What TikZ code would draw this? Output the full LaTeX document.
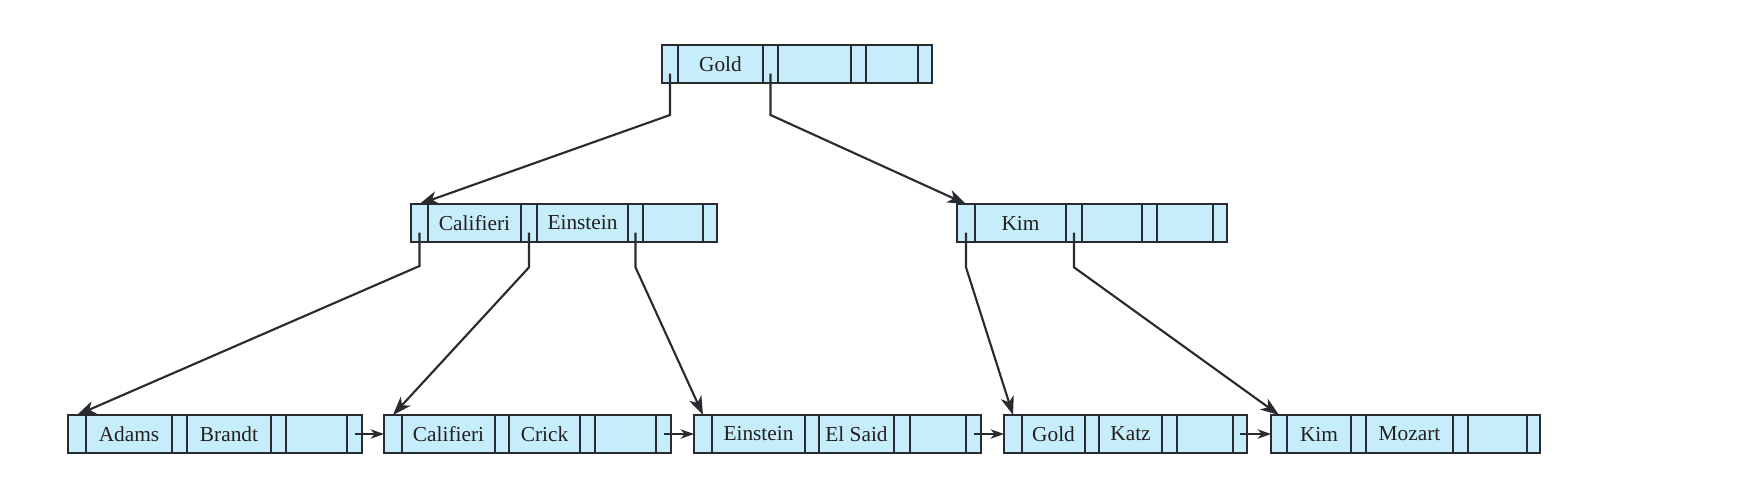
\documentclass[tikz,border=0pt]{standalone}
\usepackage{fontspec}
\setmainfont{Liberation Serif}
\usetikzlibrary{arrows.meta}
\definecolor{cellfill}{HTML}{C6EEFA}
\definecolor{linec}{HTML}{2A2B30}
\definecolor{textc}{HTML}{231F20}
\newcommand\rec[3]{\foreach \i/\a/\b/\t in {#3}{\node[cell,minimum width={(\b-\a)*0.75pt}] (#1\i) at (\a,#2) {\t};}}
\begin{document}
\begin{tikzpicture}[x=0.75pt,y=-0.75pt,
  cell/.style={draw=linec, fill=cellfill, line width=1.7pt, inner sep=0pt, outer sep=0pt,
    minimum height=28.5pt, anchor=north west, text=textc, font=\fontsize{16}{19}\selectfont},
  ptr/.style={draw=linec, line width=1.6pt, -{Stealth[length=14pt,width=10pt,inset=4pt]}},
  lnk/.style={draw=linec, line width=1.6pt, -{Stealth[length=10pt,width=7pt,inset=3pt]}}]
\useasboundingbox (0,0) rectangle (1744,493);
% root
\rec{r}{45}{0/662/678/,1/678/763/Gold,2/763/778/,3/778/851/,4/851/866/,5/866/918/,6/918/932/}
% internal
\rec{c}{204}{0/411/428/,1/428/521/Califieri,2/521/537/,3/537/628/Einstein,4/628/643/,5/643/703/,6/703/717/}
\rec{k}{204}{0/957/975/,1/975/1066/Kim,2/1066/1082/,3/1082/1142/,4/1142/1157/,5/1157/1213/,6/1213/1227/}
% leaves
\rec{la}{415}{0/68/86/,1/86/172/Adams,2/172/187/,3/187/271/Brandt,4/271/286/,5/286/347/,6/347/362/}
\rec{lb}{415}{0/384/402/,1/402/495/Califieri,2/495/509/,3/509/580/Crick,4/580/595/,5/595/656/,6/656/671/}
\rec{lc}{415}{0/694/712/,1/712/805/Einstein,2/805/819/,3/819/894/El Said,4/894/910/,5/910/966/,6/966/981/}
\rec{ld}{415}{0/1004/1022/,1/1022/1085/Gold,2/1085/1099/,3/1099/1162/Katz,4/1162/1177/,5/1177/1233/,6/1233/1247/}
\rec{le}{415}{0/1271/1287/,1/1287/1351/Kim,2/1351/1366/,3/1366/1453/Mozart,4/1453/1468/,5/1468/1527/,6/1527/1540/}
% tree pointers
\draw[ptr] ([yshift=7pt]r0.south) -- ([yshift=-24pt]r0.south) -- (c0.north);
\draw[ptr] ([yshift=7pt]r2.south) -- ([yshift=-24pt]r2.south) -- (k0.north);
\draw[ptr] ([yshift=7pt]c0.south) -- ([yshift=-18pt]c0.south) -- (la0.north);
\draw[ptr] ([yshift=7pt]c2.south) -- ([yshift=-19pt]c2.south) -- (lb0.north);
\draw[ptr] ([yshift=7pt]c4.south) -- ([yshift=-19pt]c4.south) -- (lc0.north);
\draw[ptr] ([yshift=7pt]k0.south) -- ([yshift=-19pt]k0.south) -- (ld0.north);
\draw[ptr] ([yshift=7pt]k2.south) -- ([yshift=-19pt]k2.south) -- (le0.north);
% leaf links
\draw[lnk] (la6.center) -- (lb0.west);
\draw[lnk] (lb6.center) -- (lc0.west);
\draw[lnk] (lc6.center) -- (ld0.west);
\draw[lnk] (ld6.center) -- (le0.west);
\end{tikzpicture}
\end{document}
